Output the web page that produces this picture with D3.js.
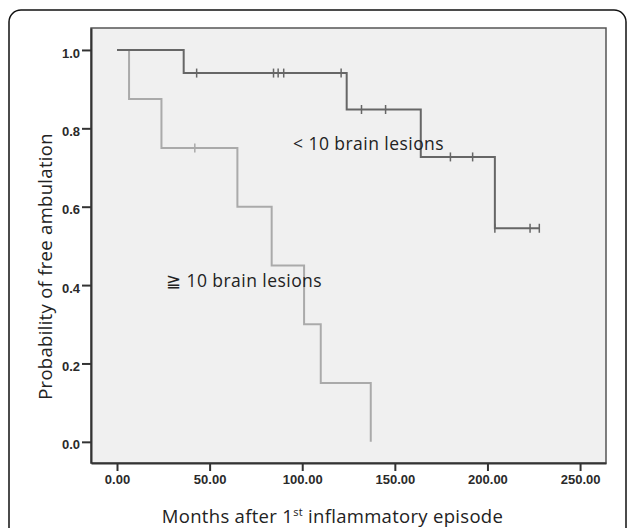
<!DOCTYPE html>
<html><head><meta charset="utf-8">
<script src="https://cdn.jsdelivr.net/npm/d3@7"></script>
<style>body{margin:0;background:#fff;}svg{display:block;}</style>
</head><body>
<svg id="c" width="627" height="528"></svg>
<script>
// Data
const lowTimes = [0, 36, 124, 164, 204];
const lowSurv = [1.0, 0.941, 0.848, 0.727, 0.545];
const lowEnd = 228;
const lowCensor = [43, 84.5, 87, 90, 121, 132, 145, 180, 192, 204, 223, 228];

const highTimes = [0, 6.5, 24, 65, 83.5, 101, 110, 137];
const highSurv = [1.0, 0.875, 0.75, 0.6, 0.45, 0.3, 0.15, 0.0];
const highEnd = 137;
const highCensor = [42];

const xTicks = [0, 50, 100, 150, 200, 250];
const yTicks = [0, 0.2, 0.4, 0.6, 0.8, 1.0];

const svg = d3.select("#c");
const L = 91, R = 606, T = 28, B = 463;
const x = d3.scaleLinear().domain([-14.04, 264]).range([L, R]);
const y = d3.scaleLinear().domain([-0.054, 1.056]).range([B, T]);

// outer rounded frame
svg.append("rect").attr("x", 9).attr("y", 10).attr("width", 617).attr("height", 600)
  .attr("rx", 12).attr("fill", "none").attr("stroke", "#111").attr("stroke-width", 1.5);

// plot background
svg.append("rect").attr("x", L).attr("y", T).attr("width", R - L).attr("height", B - T)
  .attr("fill", "#f0f0f0").attr("stroke", "#555").attr("stroke-width", 1.5);

function stepPath(times, surv, end) {
  const pts = [];
  for (let i = 0; i < times.length; i++) {
    if (i > 0) pts.push([times[i], surv[i - 1]]);
    pts.push([times[i], surv[i]]);
  }
  const last = surv[surv.length - 1];
  if (end > times[times.length - 1]) pts.push([end, last]);
  return d3.line().x(d => x(d[0])).y(d => y(d[1]))(pts);
}
function survAt(times, surv, t) {
  let s = surv[0];
  for (let i = 0; i < times.length; i++) if (times[i] <= t) s = surv[i];
  return s;
}

function drawCurve(times, surv, end, censor, color) {
  svg.append("path").attr("d", stepPath(times, surv, end))
    .attr("fill", "none").attr("stroke", color).attr("stroke-width", 2);
  svg.selectAll(null).data(censor).enter().append("line")
    .attr("x1", d => x(d)).attr("x2", d => x(d))
    .attr("y1", d => y(survAt(times, surv, d)) - 4.5)
    .attr("y2", d => y(survAt(times, surv, d)) + 4.5)
    .attr("stroke", color).attr("stroke-width", 1.5);
}
drawCurve(highTimes, highSurv, highEnd, highCensor, "#aaaaaa");
drawCurve(lowTimes, lowSurv, lowEnd, lowCensor, "#666666");

// axes
const yAxis = d3.axisLeft(y).tickValues(yTicks).tickFormat(d3.format(".1f"))
  .tickSizeInner(9).tickSizeOuter(0).tickPadding(2);
const gy = svg.append("g").attr("transform", `translate(${L},0)`).call(yAxis);
const xAxis = d3.axisBottom(x).tickValues(xTicks).tickFormat(d3.format(".2f"))
  .tickSizeInner(8).tickSizeOuter(0).tickPadding(4);
const gx = svg.append("g").attr("transform", `translate(0,${B})`).call(xAxis);
[gy, gx].forEach(g => {
  g.select(".domain").attr("stroke", "#333").attr("stroke-width", 2);
  g.selectAll(".tick line").attr("stroke", "#333").attr("stroke-width", 2);
  g.selectAll(".tick text").attr("font-family", "Liberation Sans, Arial, sans-serif")
    .attr("font-size", 13).attr("fill", "#2a2a2a").attr("font-weight", "bold");
});
gy.selectAll(".tick text").attr("dy", "0.55em");

// annotations
const lf = "'Open Sans', sans-serif";
svg.append("text").attr("x", 293).attr("y", 150).attr("font-family", lf).attr("font-size", 17.5)
  .attr("letter-spacing", 0.45).attr("fill", "#222").text("< 10 brain lesions");
svg.append("text").attr("x", 166).attr("y", 286.5).attr("font-family", lf).attr("font-size", 17.5)
  .attr("letter-spacing", 0.45).attr("fill", "#222").text("≧ 10 brain lesions");

// axis titles
const xt = svg.append("text").attr("x", 332.5).attr("y", 523).attr("text-anchor", "middle")
  .attr("font-family", lf).attr("font-size", 18.5).attr("letter-spacing", 0.3).attr("fill", "#222");
xt.append("tspan").text("Months after 1");
xt.append("tspan").attr("font-size", 11).attr("dy", -7).text("st");
xt.append("tspan").attr("dy", 7).text(" inflammatory episode");

svg.append("text").attr("transform", "translate(51.5,266.5) rotate(-90)").attr("text-anchor", "middle")
  .attr("font-family", lf).attr("font-size", 18.5).attr("letter-spacing", 0.3).attr("fill", "#222")
  .text("Probability of free ambulation");
</script>
</body></html>
